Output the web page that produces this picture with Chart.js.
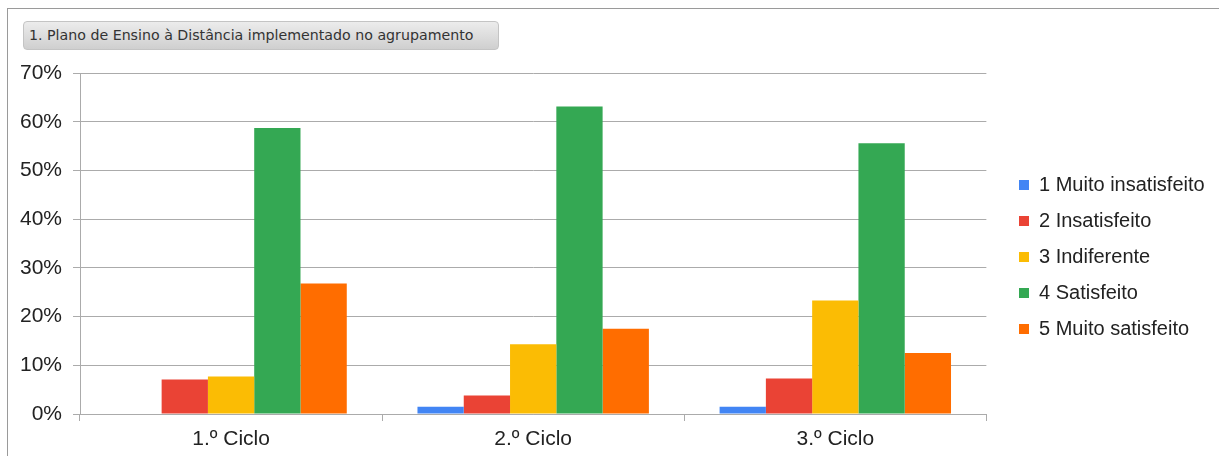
<!DOCTYPE html>
<html>
<head>
<meta charset="utf-8">
<script src="https://cdn.jsdelivr.net/npm/chart.js@4/dist/chart.umd.min.js"></script>
<style>
  html, body { margin: 0; padding: 0; background: #fff; }
  body { width: 1219px; height: 456px; position: relative; overflow: hidden; }
  .frame {
    position: absolute; left: 7px; top: 8px; right: 0; bottom: 0;
    border-top: 1px solid #9a9a9a; border-left: 1px solid #9a9a9a;
  }
  .titulo {
    position: absolute; left: 23px; top: 21px; width: 476px; height: 29px;
    box-sizing: border-box; border: 1px solid #c4c4c4; border-radius: 4px;
    background: linear-gradient(#ececec, #cfcfcf);
    font-family: "DejaVu Sans", sans-serif; font-size: 14.2px;
    color: #333; line-height: 27px; padding-left: 5px; white-space: nowrap;
  }
  #wrap { position: absolute; left: 0; top: 0; width: 1219px; height: 456px; }
</style>
</head>
<body>
<div class="frame"></div>
<div class="titulo">1. Plano de Ensino à Distância implementado no agrupamento</div>
<div id="wrap"><canvas id="grafico"></canvas></div>
<script>
const ciclos = ['1.º Ciclo', '2.º Ciclo', '3.º Ciclo'];
const niveis = ['1 Muito insatisfeito', '2 Insatisfeito', '3 Indiferente', '4 Satisfeito', '5 Muito satisfeito'];
const muitoInsatisfeito = [0, 1.5, 1.5];
const insatisfeito = [7.1, 3.8, 7.3];
const indiferente = [7.7, 14.3, 23.3];
const satisfeito = [58.7, 63.1, 55.6];
const muitoSatisfeito = [26.8, 17.5, 12.5];
const cores = ['#4285f4', '#ea4335', '#fbbc04', '#34a853', '#ff6d00'];

const series = [muitoInsatisfeito, insatisfeito, indiferente, satisfeito, muitoSatisfeito];
const fonte = { family: '"Liberation Sans", Arial, sans-serif', size: 21 };
const fonteLegenda = { family: '"Liberation Sans", Arial, sans-serif', size: 20 };
const cinza = '#ababab';

// desloca a legenda para a posição da imagem original
const posLegenda = {
    id: 'posLegenda',
    afterLayout(chart) {
        const leg = chart.legend;
        const pad = leg.options.labels.padding;
        const dx = 1019 - (leg.left + pad);
        const dy = 257 - (leg.top + leg.height / 2);
        leg.left += dx; leg.right += dx;
        leg.top += dy; leg.bottom += dy;
    }
};

new Chart(document.getElementById('grafico'), {
    type: 'bar',
    data: {
        labels: ciclos,
        datasets: series.map((s, i) => ({
            label: niveis[i],
            data: s,
            backgroundColor: cores[i],
            borderWidth: 0,
            barPercentage: 1,
            categoryPercentage: 0.766
        }))
    },
    options: {
        responsive: true,
        maintainAspectRatio: false,
        animation: false,
        layout: { padding: { left: 0, top: 73, right: 21, bottom: 0 } },
        scales: {
            x: {
                afterFit(scale) { scale.height = 42; },
                grid: { drawOnChartArea: false, tickLength: 7, color: cinza },
                border: { color: cinza },
                ticks: { font: fonte, color: '#222', padding: 6 }
            },
            y: {
                min: 0,
                max: 70,
                afterFit(scale) { scale.width = 80; },
                grid: { tickLength: 7, color: cinza },
                border: { color: cinza },
                ticks: {
                    stepSize: 10,
                    font: fonte,
                    color: '#222',
                    padding: 11,
                    callback: v => v + '%'
                }
            }
        },
        plugins: {
            legend: {
                position: 'right',
                labels: { font: fonteLegenda, color: '#222', boxWidth: 10, boxHeight: 10, padding: 16 }
            },
            tooltip: { enabled: false }
        }
    },
    plugins: [posLegenda]
});
</script>
</body>
</html>
